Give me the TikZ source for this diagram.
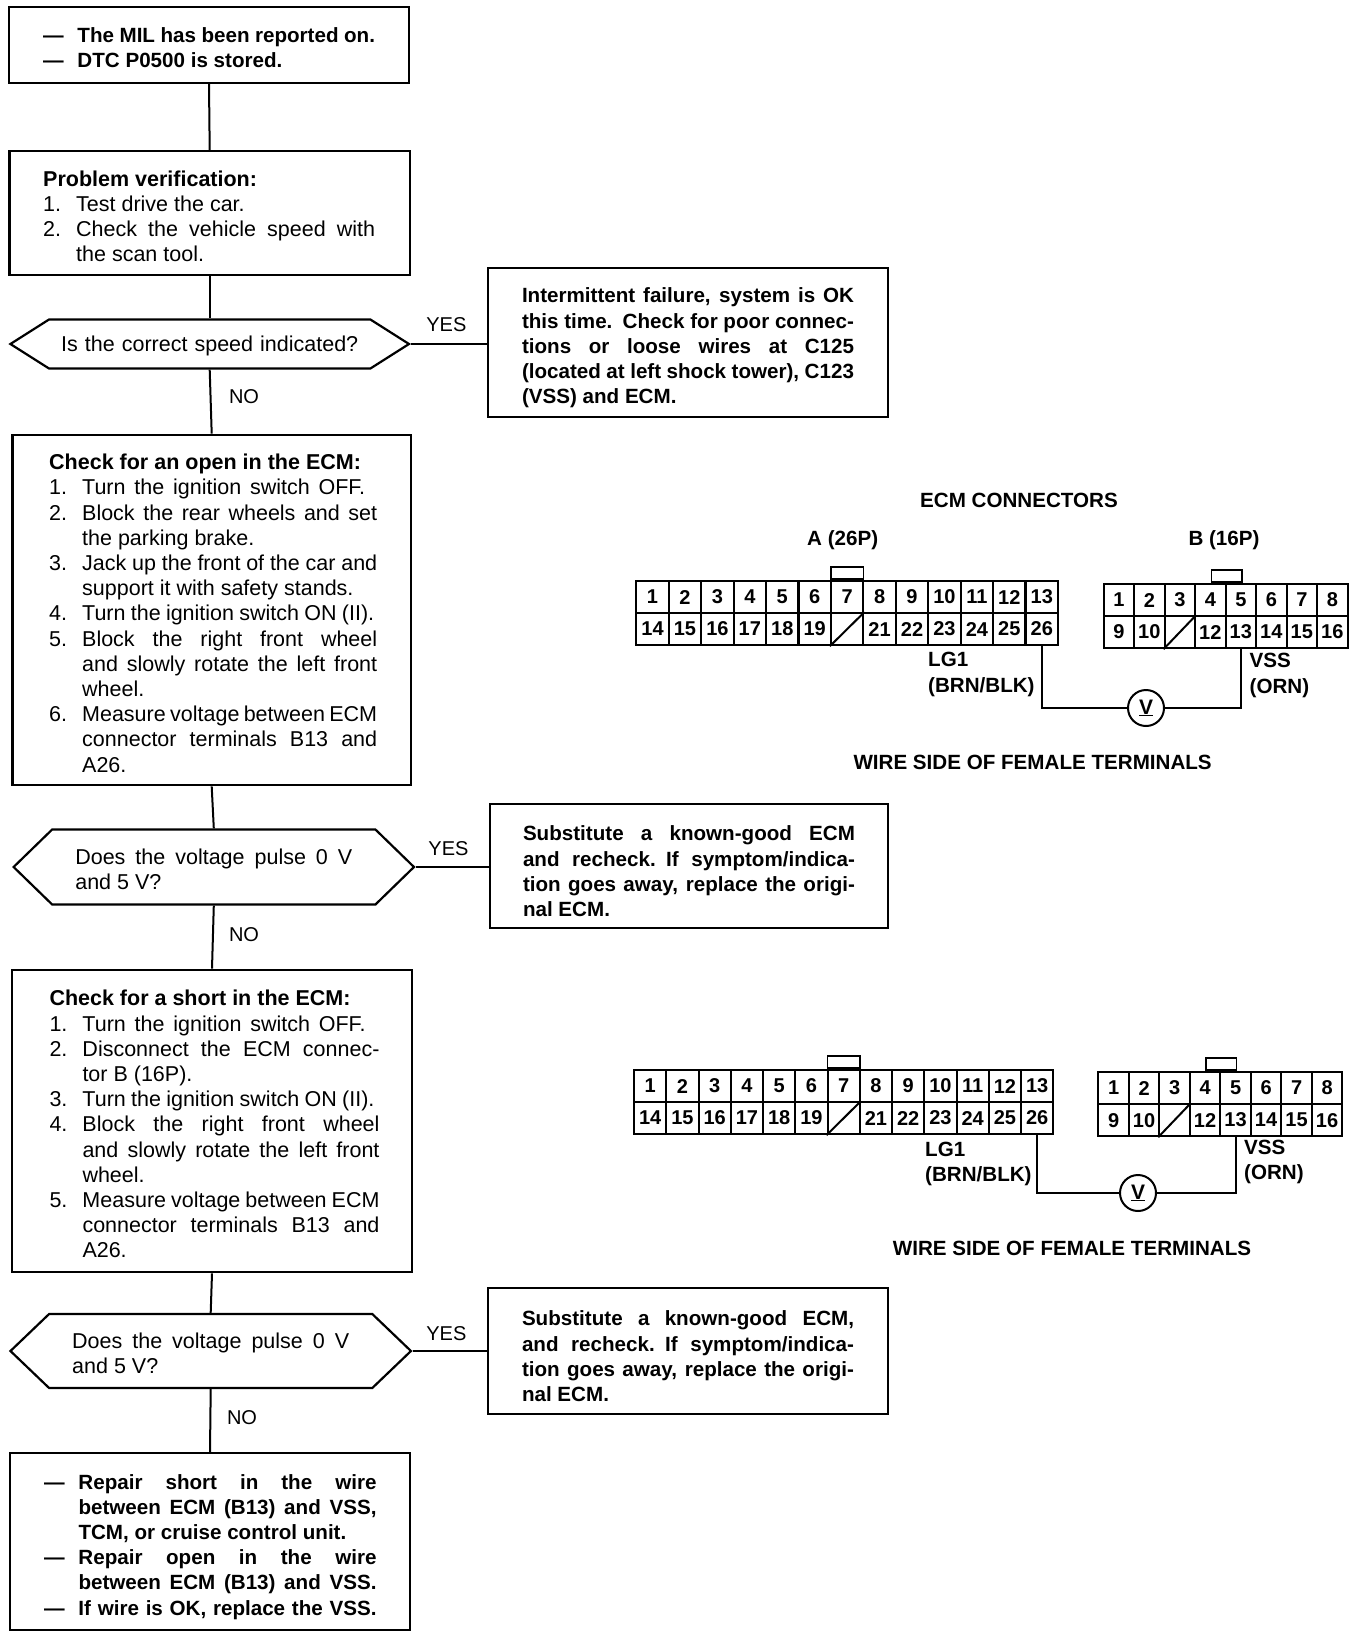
\documentclass[tikz,border=0pt]{standalone}
\usepackage{fontspec}
\setmainfont{Liberation Sans}
\usetikzlibrary{shapes.symbols}
\newcommand{\fitline}[2]{\makebox[#1pt][s]{#2}}
\newcommand{\numline}[2]{\makebox[33pt][l]{#1}#2}
\newcommand{\dashline}[1]{\makebox[34.5pt][l]{---}#1}
\tikzset{
	every node/.style={font=\fontsize{21.5}{25.2}\selectfont,inner sep=0pt,execute at begin node={\spaceskip=0pt\relax}},
	wire/.style={line width=2pt},
	stepbox/.style={draw,line width=2.2pt,align=left,text height=22pt},
	boldbox/.style={stepbox,text height=25.5pt,font=\fontsize{20.6}{25.2}\selectfont\bfseries},
	askbox/.style={draw,line width=2.2pt,align=left,signal,signal to=west and east,text height=20pt},
	cell/.style={draw,line width=2.2pt,anchor=north west,font=\fontsize{20}{22}\selectfont\bfseries},
	tabkey/.style={draw,line width=1.6pt,anchor=south},
	meter/.style={draw,circle,line width=2pt,minimum size=36pt,font=\fontsize{21}{22}\selectfont\bfseries},
	tag/.style={font=\fontsize{20.6}{25.2}\selectfont\bfseries,align=left},
	say/.style={font=\fontsize{20}{25.2}\selectfont},
}
\begin{document}
\begin{tikzpicture}[x=1pt,y=-1pt]
	\useasboundingbox (0,0) rectangle (1360,1636);
	\node[boldbox,minimum width=400.5pt,minimum height=76pt,text width=332pt,text height=19.5pt] (start) at (209,45) {\dashline{The MIL has been reported on.}\\\dashline{DTC P0500 is stored.}};
	\node[stepbox,minimum width=400.5pt,minimum height=124pt,text width=333pt] (verify) at (209.7,213) {\textbf{Problem verification:}\\\numline{1.}{Test drive the car.}\\\numline{2.}{\fitline{299}{Check the vehicle speed with}}\\\numline{}{the scan tool.}};
	\node[askbox,minimum width=398.6pt,minimum height=49pt,signal pointer angle=64.8] (aska) at (209.7,344) {\fitline{297}{Is the correct speed indicated?}};
	\node[stepbox,minimum width=398.5pt,minimum height=350.4pt,text width=325pt] (openbox) at (211.7,610) {\textbf{Check for an open in the ECM:}\\\numline{1.}{\fitline{283}{Turn the ignition switch OFF.}}\\\numline{2.}{\fitline{295}{Block the rear wheels and set}}\\\numline{}{the parking brake.}\\\numline{3.}{\fitline{295}{Jack up the front of the car and}}\\\numline{}{support it with safety stands.}\\\numline{4.}{Turn the ignition switch ON (II).}\\\numline{5.}{\fitline{295}{Block the right front wheel}}\\\numline{}{\fitline{295}{and slowly rotate the left front}}\\\numline{}{wheel.}\\\numline{6.}{\fitline{295}{Measure voltage between ECM}}\\\numline{}{\fitline{295}{connector terminals B13 and}}\\\numline{}{A26.}};
	\node[askbox,minimum width=400.4pt,minimum height=75pt,signal pointer angle=88.4,text width=277pt] (askb) at (213.8,867) {\fitline{277}{Does the voltage pulse 0 V}\\and 5 V?};
	\node[stepbox,minimum width=399.5pt,minimum height=302.5pt,text width=325pt] (shortbox) at (212,1121) {\textbf{Check for a short in the ECM:}\\\numline{1.}{\fitline{283}{Turn the ignition switch OFF.}}\\\numline{2.}{\fitline{297}{Disconnect the ECM connec-}}\\\numline{}{tor B (16P).}\\\numline{3.}{Turn the ignition switch ON (II).}\\\numline{4.}{\fitline{297}{Block the right front wheel}}\\\numline{}{\fitline{297}{and slowly rotate the left front}}\\\numline{}{wheel.}\\\numline{5.}{\fitline{297}{Measure voltage between ECM}}\\\numline{}{\fitline{297}{connector terminals B13 and}}\\\numline{}{A26.}};
	\node[askbox,minimum width=400.5pt,minimum height=74pt,signal pointer angle=87.5,text width=277pt] (askc) at (210.7,1351) {\fitline{277}{Does the voltage pulse 0 V}\\and 5 V?};
	\node[boldbox,minimum width=399.6pt,minimum height=177pt,text width=332pt] (repair) at (210,1541.5) {\dashline{\fitline{298}{Repair short in the wire}}\\\hspace*{34.5pt}\fitline{298}{between ECM (B13) and VSS,}\\\hspace*{34.5pt}TCM, or cruise control unit.\\\dashline{\fitline{298}{Repair open in the wire}}\\\hspace*{34.5pt}\fitline{298}{between ECM (B13) and VSS.}\\\dashline{\fitline{298}{If wire is OK, replace the VSS.}}};
	\node[boldbox,minimum width=399.5pt,minimum height=149pt,text width=332pt] (oka) at (688,342.7) {\fitline{332}{Intermittent failure, system is OK}\\\fitline{332}{this time. Check for poor connec-}\\\fitline{332}{tions or loose wires at C125}\\\fitline{332}{(located at left shock tower), C123}\\(VSS) and ECM.};
	\node[boldbox,minimum width=397.4pt,minimum height=124pt,text width=332pt] (okb) at (689,866) {\fitline{332}{Substitute a known-good ECM}\\\fitline{332}{and recheck. If symptom/indica-}\\\fitline{332}{tion goes away, replace the origi-}\\nal ECM.};
	\node[boldbox,minimum width=399.6pt,minimum height=126pt,text width=332pt] (okc) at (688,1351) {\fitline{332}{Substitute a known-good ECM,}\\\fitline{332}{and recheck. If symptom/indica-}\\\fitline{332}{tion goes away, replace the origi-}\\nal ECM.};
	\node[say] (yesa) at (446.4,325) {YES};
	\node[say] (noa) at (244,397) {NO};
	\node[say] (yesb) at (448.5,849) {YES};
	\node[say] (nob) at (244,934.5) {NO};
	\node[say] (yesc) at (446.4,1334) {YES};
	\node[say] (noc) at (242,1418) {NO};
	\draw[wire](start.south)--(verify.north);
	\draw[wire](verify.south)--(aska.north);
	\draw[wire](aska.south)--(openbox.north);
	\draw[wire](openbox.south)--(askb.north);
	\draw[wire](askb.south)--(shortbox.north);
	\draw[wire](shortbox.south)--(askc.north);
	\draw[wire](askc.south)--(repair.north);
	\draw[wire](aska.east)--(aska.east-|oka.west);
	\draw[wire](askb.east)--(askb.east-|okb.west);
	\draw[wire](askc.east)--(askc.east-|okc.west);
	\foreach \pre/\ax/\ay/\aw/\bx/\by/\mx/\my in {u/635.2/580/32.44/1102.5/583/1146/708,l/633/1069/32.25/1097.2/1071/1138/1193}{
		\foreach \i in {1,...,13}
			\node[cell,minimum width=\aw pt,minimum height=32pt] (\pre a\i) at ({\ax+(\i-1)*\aw},\ay) {\i};
		\foreach \i in {14,...,26}{
			\ifnum\i=20
				\node[cell,minimum width=\aw pt,minimum height=32pt] (\pre a\i) at ({\ax+(\i-14)*\aw},\ay+32) {};
			\else
				\node[cell,minimum width=\aw pt,minimum height=32pt] (\pre a\i) at ({\ax+(\i-14)*\aw},\ay+32) {\i};
			\fi
		}
		\foreach \i in {1,...,8}
			\node[cell,minimum width=30.5pt,minimum height=32pt] (\pre b\i) at ({\bx+(\i-1)*30.5},\by) {\i};
		\foreach \i in {9,...,16}{
			\ifnum\i=11
				\node[cell,minimum width=30.5pt,minimum height=32pt] (\pre b\i) at ({\bx+(\i-9)*30.5},\by+32) {};
			\else
				\node[cell,minimum width=30.5pt,minimum height=32pt] (\pre b\i) at ({\bx+(\i-9)*30.5},\by+32) {\i};
			\fi
		}
		\draw[wire](\pre a20.south west)--(\pre a20.north east);
		\draw[wire](\pre b11.south west)--(\pre b11.north east);
		\node[tabkey,minimum width=\aw pt,minimum height=12pt] (\pre akey) at (\pre a7.north) {};
		\node[tabkey,minimum width=30.5pt,minimum height=12pt] (\pre bkey) at (\pre b4.north east) {};
		\node[meter] (\pre meter) at (\mx,\my) {\underline{V}};
		\draw[wire](\pre a26.south)|-(\pre meter.west);
		\draw[wire](\pre meter.east)-|(\pre b13.south);
	}
	\node[tag] (ecmtitle) at (1019,500.6) {ECM CONNECTORS};
	\node[tag] (atitle) at (842.7,540) {A (26P)};
	\node[tag] (btitle) at (1224,540) {B (16P)};
	\node[tag,anchor=west] (ulg) at (928,674.5) {LG1\\(BRN/BLK)};
	\node[tag,anchor=west] (uvss) at (1249.5,675.5) {VSS\\(ORN)};
	\node[tag] (uside) at (1032.6,762.4) {WIRE SIDE OF FEMALE TERMINALS};
	\node[tag,anchor=west] (llg) at (925,1164) {LG1\\(BRN/BLK)};
	\node[tag,anchor=west] (lvss) at (1244,1162) {VSS\\(ORN)};
	\node[tag] (lside) at (1072,1248.5) {WIRE SIDE OF FEMALE TERMINALS};
\end{tikzpicture}
\end{document}
